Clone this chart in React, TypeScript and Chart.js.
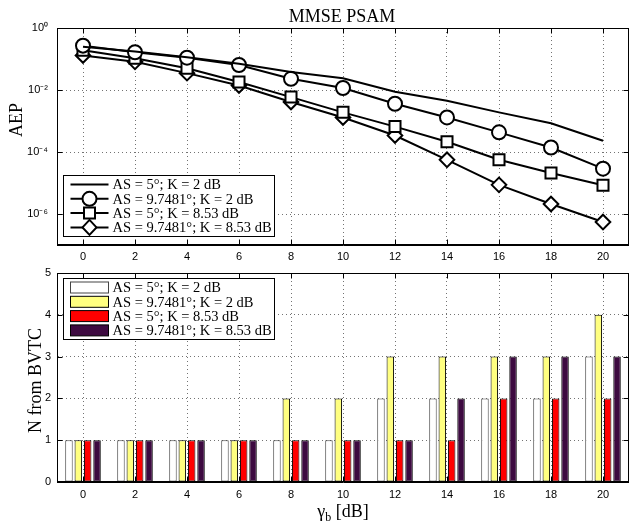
import React, { useEffect, useRef } from 'react';
import { Chart, registerables } from 'chart.js';

Chart.register(...registerables);

// ---------- data ----------
const gammaLabels = ['0', '2', '4', '6', '8', '10', '12', '14', '16', '18', '20'];
const seriesLabels = [
  'AS = 5°; K = 2 dB',
  'AS = 9.7481°; K = 2 dB',
  'AS = 5°; K = 8.53 dB',
  'AS = 9.7481°; K = 8.53 dB',
];
const aepAS5K2 = [0.25, 0.175, 0.113, 0.07, 0.038, 0.024, 0.0088, 0.0045, 0.0019, 8.5e-4, 2.3e-4];
const aepAS97K2 = [0.27, 0.165, 0.11, 0.064, 0.023, 0.0116, 0.0036, 0.0013, 4.3e-4, 1.4e-4, 2.9e-5];
const aepAS5K853 = [0.19, 0.105, 0.05, 0.018, 0.0059, 0.0019, 6.6e-4, 2.15e-4, 5.6e-5, 2.1e-5, 8.5e-6];
const aepAS97K853 = [0.13, 0.081, 0.035, 0.014, 0.0041, 0.0013, 3.4e-4, 5.6e-5, 8.7e-6, 2.1e-6, 5.5e-7];

const nAS5K2 = [1, 1, 1, 1, 1, 1, 2, 2, 2, 2, 3];
const nAS97K2 = [1, 1, 1, 1, 2, 2, 3, 3, 3, 3, 4];
const nAS5K853 = [1, 1, 1, 1, 1, 1, 1, 1, 2, 2, 2];
const nAS97K853 = [1, 1, 1, 1, 1, 1, 1, 2, 3, 3, 3];

const aepTickValues = [1e-6, 1e-4, 1e-2, 1];
const aepTickLabels = ['10⁻⁶', '10⁻⁴', '10⁻²', '10⁰'];

const chartTitle = 'MMSE PSAM';
const topYTitle = 'AEP';
const botYTitle = 'N from BVTC';
const xTitleMain = 'γ';
const xTitleSub = 'b';
const xTitleUnit = ' [dB]';

// ---------- styles ----------
const SERIF = '"Liberation Serif", "DejaVu Serif", serif';
const SANS = '"Liberation Sans", Arial, sans-serif';
const gridColor = 'rgba(0,0,0,0.55)';
const barFills = ['#ffffff', '#ffff80', '#ff0000', '#3d0a40'];
const barStrokes = ['#444444', '#000000', '#000000', '#000000'];
const markerStyles = ['none', 'circle', 'rect', 'diamond'];
const AXIS_W = 57;

function drawMarker(ctx: CanvasRenderingContext2D, style: string, x: number, y: number) {
  if (style === 'none') return;
  ctx.save();
  ctx.fillStyle = '#fff';
  ctx.strokeStyle = '#000';
  ctx.lineWidth = 2;
  ctx.beginPath();
  if (style === 'circle') {
    ctx.arc(x, y, 7, 0, Math.PI * 2);
  } else if (style === 'rect') {
    ctx.rect(x - 5.5, y - 5.5, 11, 11);
  } else {
    ctx.moveTo(x - 7, y);
    ctx.lineTo(x, y - 7.5);
    ctx.lineTo(x + 7, y);
    ctx.lineTo(x, y + 7.5);
    ctx.closePath();
  }
  ctx.fill();
  ctx.stroke();
  ctx.restore();
}

const framePlugin = {
  id: 'matlabFrame',
  afterDraw(chart: any) {
    const { ctx, chartArea: a } = chart;
    const L = Math.round(a.left) + 0.5;
    const R = Math.round(a.right) - 0.5;
    const T = Math.round(a.top) + 0.5;
    const B = Math.round(a.bottom) - 0.5;
    ctx.save();
    ctx.strokeStyle = '#000';
    ctx.lineWidth = 1;
    ctx.strokeRect(L, T, R - L, B - T);
    ctx.beginPath();
    const xs = chart.scales.x;
    xs.ticks.forEach((_: any, i: number) => {
      const px = Math.round(xs.getPixelForTick(i)) + 0.5;
      ctx.moveTo(px, B);
      ctx.lineTo(px, B - 5);
      ctx.moveTo(px, T);
      ctx.lineTo(px, T + 5);
    });
    const ys = chart.scales.y;
    ys.ticks.forEach((_: any, i: number) => {
      const py = Math.round(ys.getPixelForTick(i)) + 0.5;
      ctx.moveTo(L, py);
      ctx.lineTo(L + 5, py);
      ctx.moveTo(R, py);
      ctx.lineTo(R - 5, py);
    });
    ctx.stroke();
    ctx.restore();
  },
};

function legendPlugin(kind: 'line' | 'box') {
  return {
    id: 'boxLegend_' + kind,
    afterDraw(chart: any) {
      const { ctx, chartArea: a } = chart;
      const w = 211;
      const h = 61;
      const rowH = 14.3;
      const x0 = Math.round(a.left) + 6.5;
      const y0 = kind === 'line' ? Math.round(a.bottom - 9 - h) + 0.5 : Math.round(a.top + 5) + 0.5;
      ctx.save();
      ctx.fillStyle = '#fff';
      ctx.fillRect(x0, y0, w, h);
      ctx.strokeStyle = '#000';
      ctx.lineWidth = 1;
      ctx.strokeRect(x0, y0, w, h);
      ctx.font = '14.5px ' + SERIF;
      ctx.textBaseline = 'middle';
      ctx.textAlign = 'left';
      seriesLabels.forEach((label, i) => {
        const cy = y0 + 9 + i * rowH;
        if (kind === 'line') {
          ctx.strokeStyle = '#000';
          ctx.lineWidth = 2;
          ctx.beginPath();
          ctx.moveTo(x0 + 7, cy);
          ctx.lineTo(x0 + 45, cy);
          ctx.stroke();
          drawMarker(ctx, markerStyles[i], x0 + 26, cy);
        } else {
          ctx.fillStyle = barFills[i];
          ctx.fillRect(x0 + 7, cy - 5.5, 38, 11);
          ctx.strokeStyle = barStrokes[i];
          ctx.lineWidth = 1;
          ctx.strokeRect(x0 + 7, cy - 5.5, 38, 11);
        }
        ctx.fillStyle = '#000';
        ctx.fillText(label, x0 + 49, cy + 1);
      });
      ctx.restore();
    },
  };
}

const topTextPlugin = {
  id: 'topTexts',
  afterDraw(chart: any) {
    const { ctx } = chart;
    ctx.save();
    ctx.fillStyle = '#000';
    ctx.font = '18px ' + SERIF;
    ctx.textAlign = 'center';
    ctx.textBaseline = 'alphabetic';
    ctx.fillText(chartTitle, 342, 22);
    ctx.translate(17, 120);
    ctx.rotate(-Math.PI / 2);
    ctx.textBaseline = 'middle';
    ctx.fillText(topYTitle, 0, 0);
    ctx.restore();
  },
};

const botTextPlugin = {
  id: 'botTexts',
  afterDraw(chart: any) {
    const { ctx, chartArea: a } = chart;
    ctx.save();
    ctx.fillStyle = '#000';
    ctx.textAlign = 'left';
    ctx.textBaseline = 'alphabetic';
    const big = '18px ' + SERIF;
    const small = '12px ' + SERIF;
    ctx.font = big;
    const w1 = ctx.measureText(xTitleMain).width;
    const w3 = ctx.measureText(xTitleUnit).width;
    ctx.font = small;
    const w2 = ctx.measureText(xTitleSub).width;
    const total = w1 + w2 + w3;
    let x = 343 - total / 2;
    const base = 255;
    ctx.font = big;
    ctx.fillText(xTitleMain, x, base);
    x += w1;
    ctx.font = small;
    ctx.fillText(xTitleSub, x, base + 4);
    x += w2;
    ctx.font = big;
    ctx.fillText(xTitleUnit, x, base);
    ctx.translate(36, (a.top + a.bottom) / 2 + 3);
    ctx.rotate(-Math.PI / 2);
    ctx.textAlign = 'center';
    ctx.textBaseline = 'middle';
    ctx.fillText(botYTitle, 0, 0);
    ctx.restore();
  },
};

const tickFont = { family: SANS, size: 11 };

function xScale(height: number, pad: number) {
  return {
    type: 'category' as const,
    offset: true,
    grid: { offset: false, color: gridColor, drawTicks: false, lineWidth: 1 },
    border: { display: true, color: '#000', dash: [1, 3] },
    ticks: { font: tickFont, color: '#000', padding: pad, maxRotation: 0, autoSkip: false },
    afterFit: (s: any) => {
      s.height = height;
      s.paddingLeft = 0;
      s.paddingRight = 0;
    },
  };
}

function yFit(s: any) {
  s.width = AXIS_W;
  s.paddingTop = 0;
  s.paddingBottom = 0;
}

export default function App() {
  const topRef = useRef<HTMLCanvasElement>(null);
  const botRef = useRef<HTMLCanvasElement>(null);

  useEffect(() => {
    const aepSeries = [aepAS5K2, aepAS97K2, aepAS5K853, aepAS97K853];
    const chartStyles = ['circle', 'circle', 'rect', 'rectRot'];
    const radii = [0, 7, 7.8, 7.3];
    const top = new Chart(topRef.current as HTMLCanvasElement, {
      type: 'line',
      data: {
        labels: gammaLabels,
        datasets: aepSeries.map((d, i) => ({
          label: seriesLabels[i],
          data: d,
          borderColor: '#000',
          borderWidth: 2,
          tension: 0,
          fill: false,
          pointStyle: chartStyles[i] as any,
          pointRadius: radii[i],
          pointBorderWidth: 2,
          pointBorderColor: '#000',
          pointBackgroundColor: '#fff',
        })),
      },
      options: {
        animation: false,
        responsive: true,
        maintainAspectRatio: false,
        events: [],
        layout: { autoPadding: false, padding: { top: 28, right: 0, left: 0, bottom: 0 } },
        plugins: { legend: { display: false }, title: { display: false }, tooltip: { enabled: false } },
        scales: {
          x: xScale(17, 5) as any,
          y: {
            type: 'logarithmic',
            min: 1e-7,
            max: 1,
            afterBuildTicks: (s: any) => {
              s.ticks = aepTickValues.map((v) => ({ value: v }));
            },
            grid: { color: gridColor, drawTicks: false, lineWidth: 1 },
            border: { display: true, color: '#000', dash: [1, 3] },
            ticks: {
              font: tickFont,
              color: '#000',
              padding: 9,
              autoSkip: false,
              callback: (_v: any, i: number) => aepTickLabels[i],
            },
            afterFit: yFit,
          } as any,
        },
      },
      plugins: [framePlugin, legendPlugin('line'), topTextPlugin],
    });

    const barSeries = [nAS5K2, nAS97K2, nAS5K853, nAS97K853];
    const bot = new Chart(botRef.current as HTMLCanvasElement, {
      type: 'bar',
      data: {
        labels: gammaLabels,
        datasets: barSeries.map((d, i) => ({
          label: seriesLabels[i],
          data: d,
          backgroundColor: barFills[i],
          borderColor: barStrokes[i],
          borderWidth: 1,
          borderSkipped: false,
          categoryPercentage: 0.72,
          barPercentage: 0.8,
        })),
      },
      options: {
        animation: false,
        responsive: true,
        maintainAspectRatio: false,
        events: [],
        layout: { autoPadding: false, padding: { top: 11, right: 0, left: 0, bottom: 0 } },
        plugins: { legend: { display: false }, title: { display: false }, tooltip: { enabled: false } },
        scales: {
          x: xScale(43, 6) as any,
          y: {
            type: 'linear',
            min: 0,
            max: 5,
            grid: { color: gridColor, drawTicks: false, lineWidth: 1 },
            border: { display: true, color: '#000', dash: [1, 3] },
            ticks: { font: tickFont, color: '#000', padding: 6, stepSize: 1 },
            afterFit: yFit,
          } as any,
        },
      },
      plugins: [framePlugin, legendPlugin('box'), botTextPlugin],
    });

    return () => {
      top.destroy();
      bot.destroy();
    };
  }, []);

  return (
    <div style={{ position: 'absolute', left: 0, top: 0, width: 629, height: 525, background: '#fff' }}>
      <div style={{ position: 'absolute', left: 0, top: 0, width: 629, height: 262 }}>
        <canvas ref={topRef} />
      </div>
      <div style={{ position: 'absolute', left: 0, top: 262, width: 629, height: 263 }}>
        <canvas ref={botRef} />
      </div>
    </div>
  );
}
